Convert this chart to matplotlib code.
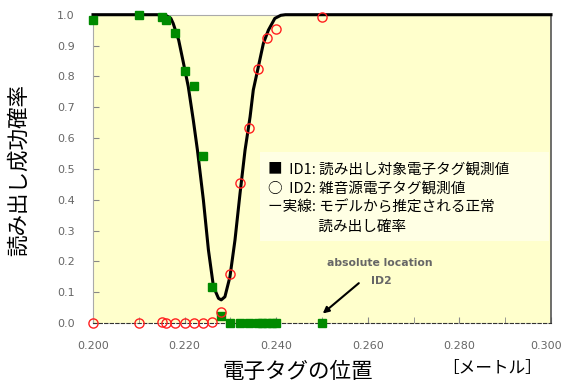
import matplotlib
matplotlib.use("Agg")
import matplotlib.pyplot as plt
import matplotlib.transforms as mtransforms

# ID1 observed (target tag)
id1_x = [0.200, 0.210, 0.215, 0.216, 0.218, 0.220, 0.222, 0.224, 0.226, 0.228,
         0.230, 0.232, 0.234, 0.236, 0.237, 0.238, 0.239, 0.240, 0.250]
id1_y = [0.983, 0.999, 0.994, 0.983, 0.940, 0.817, 0.769, 0.542, 0.118, 0.024,
         0.0, 0.0, 0.0, 0.0, 0.0, 0.0, 0.0, 0.0, 0.0]

# ID2 observed (noise tag)
id2_x = [0.200, 0.210, 0.215, 0.216, 0.218, 0.220, 0.222, 0.224, 0.226, 0.228,
         0.230, 0.232, 0.234, 0.236, 0.238, 0.240, 0.250]
id2_y = [0.0, 0.0, 0.004, 0.0, 0.0, 0.0, 0.0, 0.0, 0.004, 0.035,
         0.159, 0.453, 0.633, 0.824, 0.925, 0.952, 0.991]

# model curve
model_x = [0.200, 0.214, 0.2160, 0.2170, 0.2175, 0.2187, 0.2197, 0.2208, 0.2219, 0.2228,
           0.2241, 0.2252, 0.2263, 0.2274, 0.2280, 0.2288, 0.2299, 0.2310, 0.2321,
           0.2332, 0.2343, 0.2350, 0.2361, 0.2372, 0.2383, 0.2397, 0.2410, 0.2420, 0.300]
model_y = [1.0, 1.0, 0.997, 0.988, 0.972, 0.918, 0.847, 0.767, 0.658, 0.561,
           0.399, 0.237, 0.118, 0.080, 0.075, 0.085, 0.150, 0.269, 0.420,
           0.561, 0.669, 0.756, 0.831, 0.907, 0.950, 0.988, 0.998, 1.0, 1.0]

x_ticks = [0.200, 0.220, 0.240, 0.260, 0.280, 0.300]
x_ticklabels = ["0.200", "0.220", "0.240", "0.260", "0.280", "0.300"]
y_ticks = [0.0, 0.1, 0.2, 0.3, 0.4, 0.5, 0.6, 0.7, 0.8, 0.9, 1.0]
y_ticklabels = [f"{v:.1f}" for v in y_ticks]

legend_lines = ["■  ID1: 読み出し対象電子タグ観測値",
                "○  ID2: 雑音源電子タグ観測値",
                "ー実線: モデルから推定される正常",
                "　　　  読み出し確率"]

JP = ['Noto Sans CJK JP', 'DejaVu Sans']

fig = plt.figure(figsize=(5.65, 3.85), dpi=100)
ax = fig.add_axes([93/565, 1-323/385, (551-93)/565, (323-14.7)/385])
ax.set_facecolor('#ffffcc')
ax.set_xlim(0.2, 0.3)
ax.set_ylim(0, 1.0)

ax.plot(model_x, model_y, color='black', lw=2.2, zorder=3, clip_on=False)
ax.plot(id1_x, id1_y, 's', color='#008a00', ms=6.3, zorder=4, clip_on=False, mec='#008a00')
ax.plot(id2_x, id2_y, 'o', mfc='none', mec='#ff2020', ms=6.6, mew=1.0, zorder=5, clip_on=False)

ax.set_xticks(x_ticks)
ax.set_xticklabels(x_ticklabels)
ax.set_xticks([0.21, 0.23, 0.25, 0.27, 0.29], minor=True)
ax.set_yticks(y_ticks)
ax.set_yticklabels(y_ticklabels)
ax.tick_params(axis='both', which='both', direction='in', colors='#888888',
               labelcolor='#666666', labelsize=8, length=4)
ax.tick_params(axis='x', pad=13)
ax.tick_params(axis='y', pad=13)
for lab in ax.get_xticklabels() + ax.get_yticklabels():
    lab.set_family('DejaVu Sans')
last = ax.get_xticklabels()[-1]
last.set_transform(last.get_transform() +
                   mtransforms.ScaledTranslation(-5/100, 0, fig.dpi_scale_trans))

for s in ['top', 'left']:
    ax.spines[s].set_color('#aaaaaa')
ax.spines['right'].set_color('#555555')
ax.spines['right'].set_linewidth(1.2)
ax.spines['bottom'].set_color('#333333')
ax.spines['bottom'].set_linestyle((0, (3, 2)))

# legend text block
ax.add_patch(plt.Rectangle((0.2365, 0.265), 0.063, 0.29, facecolor='#ffffe4',
                           edgecolor='none', zorder=1))
ys = [170, 188.5, 207.5, 227]
for t, yp in zip(legend_lines, ys):
    fig.text(268/565, 1-yp/385, t, family=JP, fontsize=10.5, va='center', ha='left')

ax.annotate("", xy=(0.2497, 0.025), xytext=(0.2585, 0.135),
            arrowprops=dict(arrowstyle='-|>', color='black', lw=1.5, mutation_scale=9),
            zorder=6)
fig.text(380/565, 1-263/385, "absolute location", fontsize=7.8, color='#666666',
         ha='center', va='center', family='DejaVu Sans', fontweight='bold')
fig.text(381/565, 1-281/385, "ID2", fontsize=7.8, color='#666666',
         ha='center', va='center', family='DejaVu Sans', fontweight='bold')

fig.text(19/565, 1-170/385, "読み出し成功確率", rotation=90, family=JP, fontsize=15.5,
         ha='center', va='center')
fig.text(298/565, 1-372/385, "電子タグの位置", family=JP, fontsize=15.5,
         ha='center', va='center')
fig.text(492/565, 1-368/385, "［メートル］", family=JP, fontsize=12,
         ha='center', va='center')

fig.savefig("out.png", dpi=100)
